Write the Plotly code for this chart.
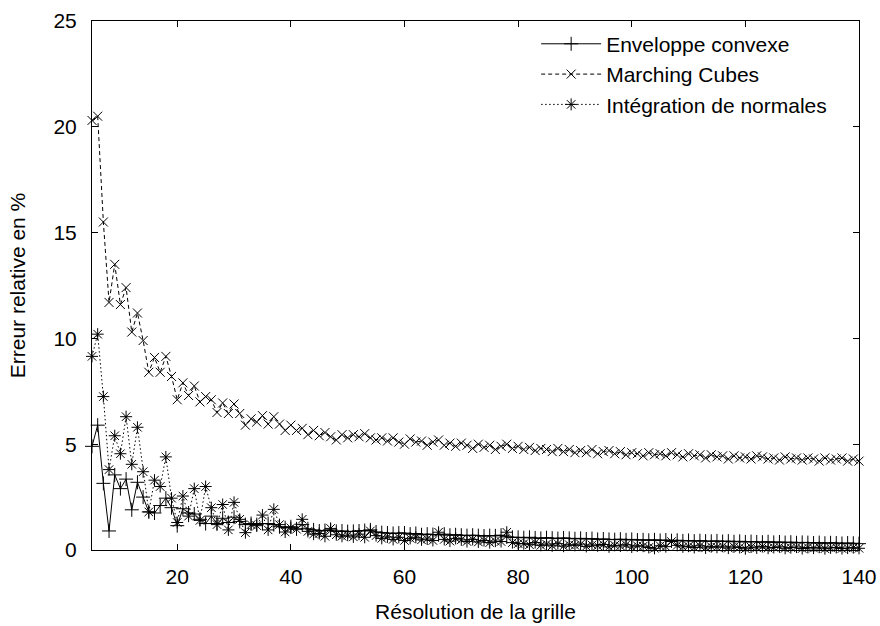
import plotly.graph_objects as go

resolution = list(range(5, 141))

marching_cubes = [
    20.3, 20.5, 15.5, 11.7, 13.5, 11.6, 12.4, 10.3, 11.2, 9.9,
    8.4, 9.1, 8.4, 9.15, 8.2, 7.1, 7.9, 7.3, 7.75, 7.0,
    7.25, 7.1, 6.5, 6.95, 6.45, 6.9, 6.45, 5.9, 6.2, 6.05,
    6.35, 5.95, 6.3, 5.95, 5.65, 5.9, 5.65, 5.75, 5.45, 5.65,
    5.4, 5.55, 5.35, 5.2, 5.45, 5.3, 5.45, 5.35, 5.5, 5.3,
    5.2, 5.3, 5.15, 5.3, 5.1, 5.0, 5.25, 5.1, 5.15, 4.95,
    5.1, 5.2, 4.95, 5.05, 4.9, 5.05, 4.95, 4.8, 5.0, 4.85,
    4.95, 4.75, 4.9, 5.0, 4.8, 4.9, 4.75, 4.85, 4.7, 4.8,
    4.75, 4.65, 4.8, 4.65, 4.75, 4.6, 4.7, 4.6, 4.75, 4.55,
    4.65, 4.7, 4.55, 4.65, 4.5, 4.6, 4.55, 4.45, 4.6, 4.5,
    4.55, 4.45, 4.6, 4.5, 4.4, 4.55, 4.45, 4.5, 4.35, 4.5,
    4.4, 4.45, 4.3, 4.45, 4.35, 4.4, 4.3, 4.45, 4.4, 4.3,
    4.35, 4.25, 4.4, 4.3, 4.35, 4.25, 4.35, 4.3, 4.2, 4.35,
    4.25, 4.3, 4.35, 4.2, 4.3, 4.2,
]

enveloppe = [
    4.9, 5.9, 3.15, 0.9, 3.55, 2.9, 3.35, 1.9, 3.2, 2.5,
    1.8, 1.75, 2.1, 2.45, 2.0, 1.15, 1.95, 1.75, 1.7, 1.45,
    1.25, 1.6, 1.25, 1.5, 1.3, 1.55, 1.35, 1.2, 1.25, 1.2,
    1.25, 1.25, 1.2, 1.1, 1.05, 1.1, 1.0, 1.2, 1.0, 0.95,
    0.9, 0.92, 0.95, 0.88, 0.9, 0.87, 0.88, 0.9, 0.92, 0.95,
    0.85, 0.82, 0.8, 0.78, 0.8, 0.8, 0.75, 0.78, 0.72, 0.75,
    0.73, 0.72, 0.75, 0.7, 0.72, 0.7, 0.68, 0.7, 0.68, 0.66,
    0.68, 0.67, 0.7, 0.62, 0.6, 0.6,
    0.58, 0.6, 0.57, 0.55, 0.58, 0.56, 0.54, 0.57, 0.55, 0.53,
    0.55, 0.52, 0.54, 0.5, 0.52, 0.5, 0.49, 0.51, 0.48, 0.5,
    0.47, 0.48, 0.46, 0.48, 0.45, 0.47, 0.44, 0.46, 0.43, 0.45,
    0.42, 0.44, 0.42, 0.41, 0.43, 0.4, 0.42, 0.39, 0.41, 0.38,
    0.4, 0.38, 0.37, 0.39, 0.36, 0.38, 0.35, 0.37, 0.34, 0.36,
    0.35, 0.33, 0.35, 0.32, 0.34, 0.33, 0.31, 0.33, 0.32, 0.3,
]

integration = [
    9.15, 10.2, 7.25, 3.8, 5.4, 4.55, 6.3, 4.05, 5.8, 3.7,
    1.8, 3.3, 3.0, 4.4, 2.45, 1.3, 2.55, 1.6, 2.9, 1.4,
    3.0, 2.0, 1.2, 2.15, 0.95, 2.25, 1.45, 0.82, 1.2, 1.15,
    1.65, 0.95, 1.92, 1.2, 0.85, 1.05, 0.98, 1.45, 0.88, 0.75,
    0.78, 0.65, 1.02, 0.72, 0.65, 0.7, 0.62, 0.75, 0.6, 0.9,
    0.68, 0.55, 0.62, 0.5, 0.6, 0.45, 0.55, 0.6, 0.48, 0.52,
    0.45, 0.84, 0.5, 0.42, 0.55, 0.48, 0.4, 0.5, 0.38, 0.45,
    0.35, 0.42, 0.4, 0.84, 0.35, 0.3,
    0.3, 0.25, 0.35, 0.22, 0.28, 0.2, 0.3, 0.18, 0.25, 0.22,
    0.28, 0.17, 0.24, 0.2, 0.26, 0.15, 0.22, 0.19, 0.25, 0.14,
    0.2, 0.18, 0.12, 0.08, 0.2, 0.16, 0.4, 0.22, 0.15, 0.18,
    0.12, 0.2, 0.1, 0.16, 0.13, 0.18, 0.09, 0.15, 0.12, 0.06,
    0.14, 0.1, 0.17, 0.09, 0.12, 0.15, 0.08, 0.11, 0.14, 0.07,
    0.12, 0.09, 0.13, 0.06, 0.1, 0.12, 0.07, 0.09, 0.11, 0.08,
]

series_names = ["Enveloppe convexe", "Marching Cubes", "Intégration de normales"]
x_ticks = [20, 40, 60, 80, 100, 120, 140]
y_ticks = [0, 5, 10, 15, 20, 25]

assert len(marching_cubes) == len(resolution)
assert len(enveloppe) == len(resolution)
assert len(integration) == len(resolution)

FONT = "Liberation Sans, Arial, Helvetica, sans-serif"
FS = 21

fig = go.Figure()
fig.add_trace(go.Scatter(
    x=resolution, y=enveloppe, name=series_names[0], mode="lines+markers",
    cliponaxis=False,
    line=dict(color="black", width=1),
    marker=dict(symbol="cross-thin", size=10, color="black", line=dict(color="black", width=1)),
))
fig.add_trace(go.Scatter(
    x=resolution, y=marching_cubes, name=series_names[1], mode="lines+markers",
    cliponaxis=False,
    line=dict(color="black", width=1, dash="4px,3px"),
    marker=dict(symbol="x-thin", size=9, color="black", line=dict(color="black", width=1)),
))
fig.add_trace(go.Scatter(
    x=resolution, y=integration, name=series_names[2], mode="lines+markers",
    cliponaxis=False,
    line=dict(color="black", width=1, dash="1.5px,2.5px"),
    marker=dict(symbol="asterisk-open", size=10, color="black", line=dict(color="black", width=1)),
))

axis_common = dict(
    showline=True, linecolor="black", linewidth=1, mirror="allticks",
    ticks="inside", ticklen=6, tickwidth=1, tickcolor="black",
    showgrid=False, zeroline=False, automargin=False,
    tickfont=dict(family=FONT, size=FS, color="black"),
    title_font=dict(family=FONT, size=FS, color="black"),
)

fig.update_xaxes(
    range=[5, 140], tickvals=x_ticks, ticktext=[str(v) for v in x_ticks],
    title_text="Résolution de la grille", title_standoff=17,
    ticklabelstandoff=8,
    **axis_common,
)
fig.update_yaxes(
    range=[0, 25], tickvals=y_ticks, ticktext=[str(v) for v in y_ticks],
    title_text="Erreur relative en %", title_standoff=22,
    ticklabelstandoff=10,
    **axis_common,
)

fig.update_layout(
    width=880, height=626,
    margin=dict(l=92, r=21, t=21, b=76, autoexpand=False),
    paper_bgcolor="white", plot_bgcolor="white",
    font=dict(family=FONT, size=FS, color="black"),
    showlegend=True,
    legend=dict(
        x=0.965, y=0.995, xanchor="right", yanchor="top",
        bgcolor="rgba(255,255,255,0)", borderwidth=0,
        font=dict(family=FONT, size=FS, color="black"),
        tracegroupgap=0, itemwidth=60,
    ),
)

fig.write_html(
    "out.html",
    config={"displayModeBar": False},
    post_script="document.body.style.margin='0';document.body.style.overflow='hidden';",
)
